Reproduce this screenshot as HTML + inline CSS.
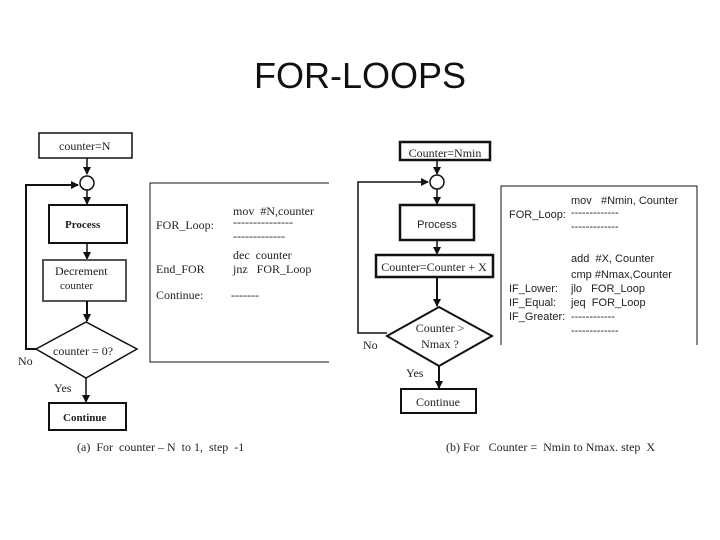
<!DOCTYPE html>
<html><head><style>
body{margin:0;background:#fff;width:720px;height:540px;overflow:hidden}
svg{display:block}
.t{font-family:"Liberation Serif",serif;fill:#222}
.s{font-family:"Liberation Sans",sans-serif;fill:#222}
</style></head><body>
<svg width="720" height="540" viewBox="0 0 720 540">
<defs><marker id="a" markerWidth="8" markerHeight="8" refX="7" refY="4" orient="auto" markerUnits="userSpaceOnUse"><path d="M0,0 L8,4 L0,8z" fill="#111"/></marker></defs>
<text x="360" y="88" text-anchor="middle" font-family="Liberation Sans,sans-serif" font-size="36" fill="#111">FOR-LOOPS</text>

<!-- Left flowchart -->
<g stroke="#111" fill="none" stroke-width="1.5">
<rect x="39" y="133" width="93" height="25"/>
<line x1="87" y1="158" x2="87" y2="174" marker-end="url(#a)"/>
<circle cx="87" cy="183" r="7"/>
<line x1="87" y1="190" x2="87" y2="204" marker-end="url(#a)"/>
<rect x="49" y="205" width="78" height="38" stroke-width="2"/>
<line x1="87" y1="243" x2="87" y2="259" marker-end="url(#a)"/>
<rect x="43" y="260" width="83" height="41" stroke="#555" stroke-width="2"/>
<line x1="87" y1="301" x2="87" y2="321" marker-end="url(#a)" stroke-width="2"/>
<polygon points="36,349 86,322 137,349 86,378"/>
<polyline points="36,349 26,349 26,185 78,185" marker-end="url(#a)" stroke-width="2"/>
<line x1="86" y1="378" x2="86" y2="402" marker-end="url(#a)"/>
<rect x="49" y="403" width="77" height="27" stroke-width="2"/>
<polyline points="329,183 150,183 150,362 329,362" stroke-width="1"/>
</g>
<g class="t" font-size="12">
<text x="59" y="150">counter=N</text>
<text x="65" y="228" font-weight="bold" font-size="11">Process</text>
<text x="55" y="275">Decrement</text>
<text x="60" y="289" font-size="11">counter</text>
<text x="53" y="355">counter = 0?</text>
<text x="18" y="365">No</text>
<text x="54" y="392">Yes</text>
<text x="63" y="421" font-size="11" font-weight="bold">Continue</text>
<text x="233" y="215">mov &#160;#N,counter</text>
<text x="156" y="229">FOR_Loop:</text>
<text x="233" y="226">---------------</text>
<text x="233" y="240">-------------</text>
<text x="233" y="259">dec &#160;counter</text>
<text x="156" y="273">End_FOR</text>
<text x="233" y="273">jnz &#160; FOR_Loop</text>
<text x="156" y="299">Continue:</text>
<text x="231" y="299">-------</text>
<text x="77" y="451">(a) &#160;For &#160;counter – N &#160;to 1, &#160;step &#160;-1</text>
</g>

<!-- Right flowchart -->
<g stroke="#111" fill="none" stroke-width="1.5">
<rect x="400" y="142" width="90" height="18" stroke-width="2.5"/>
<line x1="437" y1="160" x2="437" y2="174" marker-end="url(#a)"/>
<circle cx="437" cy="182" r="7"/>
<line x1="437" y1="189" x2="437" y2="204" marker-end="url(#a)"/>
<rect x="400" y="205" width="74" height="35" stroke-width="2.5"/>
<line x1="437" y1="240" x2="437" y2="254" marker-end="url(#a)"/>
<rect x="376" y="255" width="117" height="22" stroke-width="2.5"/>
<line x1="437" y1="277" x2="437" y2="306" marker-end="url(#a)" stroke-width="2"/>
<polygon points="387,336 439,307 492,336 439,366" stroke-width="2"/>
<polyline points="387,333 358,333 358,182 428,182" marker-end="url(#a)"/>
<line x1="439" y1="366" x2="439" y2="388" marker-end="url(#a)" stroke-width="2"/>
<rect x="401" y="389" width="75" height="24" stroke-width="2"/>
<polyline points="501,345 501,186 697,186 697,345" stroke-width="1"/>
</g>
<g class="t" font-size="12">
<text x="445" y="157" text-anchor="middle">Counter=Nmin</text>
<text x="437" y="228" text-anchor="middle" class="s" font-size="11">Process</text>
<text x="434" y="271" text-anchor="middle">Counter=Counter + X</text>
<text x="440" y="332" text-anchor="middle">Counter &gt;</text>
<text x="440" y="348" text-anchor="middle">Nmax ?</text>
<text x="363" y="349">No</text>
<text x="406" y="377">Yes</text>
<text x="438" y="406" text-anchor="middle">Continue</text>
<text x="446" y="451">(b) For &#160; Counter = &#160;Nmin to Nmax. step &#160;X</text>
</g>
<g class="s" font-size="11">
<text x="571" y="204">mov &#160; #Nmin, Counter</text>
<text x="509" y="218">FOR_Loop:</text>
<text x="571" y="216">-------------</text>
<text x="571" y="230">-------------</text>
<text x="571" y="262">add &#160;#X, Counter</text>
<text x="571" y="278">cmp #Nmax,Counter</text>
<text x="509" y="292">IF_Lower:</text>
<text x="571" y="292">jlo &#160; FOR_Loop</text>
<text x="509" y="306">IF_Equal:</text>
<text x="571" y="306">jeq &#160;FOR_Loop</text>
<text x="509" y="320">IF_Greater:</text>
<text x="571" y="320">------------</text>
<text x="571" y="334">-------------</text>
</g>
</svg>
</body></html>
